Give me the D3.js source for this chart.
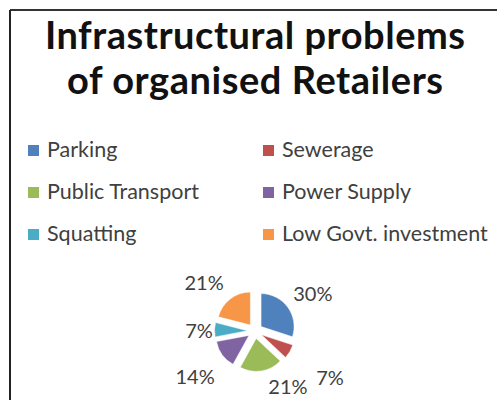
<!DOCTYPE html>
<html>
<head>
<meta charset="utf-8">
<script src="https://cdn.jsdelivr.net/npm/d3@7"></script>
<style>
  html, body { margin: 0; padding: 0; background: #fff; }
  svg { display: block; }
</style>
</head>
<body>
<svg id="chart" width="497" height="400"></svg>
<script>
// Chart data
const titleLines = ["Infrastructural problems", "of organised Retailers"];
const categories = ["Parking", "Sewerage", "Public Transport", "Power Supply", "Squatting", "Low Govt. investment"];
const shares = [30, 7, 21, 14, 7, 21];
const colors = ["#4F81BD", "#C0504D", "#9BBB59", "#8064A2", "#4BACC6", "#F79646"];

// Label placement around the pie: radial distance and angular nudge (degrees)
const labelRadius = [69, 88, 64, 75, 56, 71];
const labelTurn = [3, 1, -22, -1, -1, -8];

const W = 497, H = 400;
const svg = d3.select("#chart");
const font = "Lato, 'Open Sans', sans-serif";

// Frame lines
svg.append("line").attr("x1", 10).attr("x2", W).attr("y1", 10).attr("y2", 10)
  .attr("stroke", "#333").attr("stroke-width", 2);
svg.append("line").attr("x1", 10).attr("x2", 10).attr("y1", 10).attr("y2", H)
  .attr("stroke", "#222").attr("stroke-width", 2);

// Title, stretched to its line widths
const titleWidths = [420, 376];
svg.append("g")
  .attr("font-family", font)
  .attr("font-weight", "bold")
  .attr("font-size", 38)
  .attr("fill", "#111")
  .selectAll("text").data(titleLines).join("text")
  .attr("text-anchor", "middle")
  .attr("x", 255)
  .attr("y", (d, i) => 49 + i * 45)
  .attr("textLength", (d, i) => titleWidths[i])
  .attr("lengthAdjust", "spacing")
  .text(d => d);

// Legend: two columns, three rows
const legendCol = d3.scalePoint().domain([0, 1]).range([28, 263]);
const legendRow = d3.scalePoint().domain([0, 1, 2]).range([157, 241]);
const legend = svg.append("g")
  .attr("font-family", font)
  .attr("font-size", 21.5)
  .attr("fill", "#404040");
const items = legend.selectAll("g").data(categories).join("g")
  .attr("transform", (d, i) => `translate(${legendCol(i % 2)},${legendRow(Math.floor(i / 2))})`);
items.append("rect")
  .attr("x", 0).attr("y", -12).attr("width", 11).attr("height", 11)
  .attr("fill", (d, i) => colors[i]);
items.append("text")
  .attr("x", 19).attr("y", 0)
  .text(d => d);

// Pie
const cx = 255, cy = 331, r = 33, explode = 7.5;
const pie = d3.pie().sort(null).value(d => d)(shares);
const arc = d3.arc().innerRadius(0).outerRadius(r);
const g = svg.append("g").attr("transform", `translate(${cx},${cy})`);

const mid = d => (d.startAngle + d.endAngle) / 2;
g.selectAll("path").data(pie).join("path")
  .attr("d", arc)
  .attr("fill", (d, i) => colors[i])
  .attr("stroke", "#fff")
  .attr("stroke-width", 0.5)
  .attr("transform", d => `translate(${Math.sin(mid(d)) * explode},${-Math.cos(mid(d)) * explode})`);

// Percentage labels
g.selectAll("text.pct").data(pie).join("text")
  .attr("class", "pct")
  .attr("text-anchor", "middle")
  .attr("dominant-baseline", "central")
  .attr("font-family", font)
  .attr("font-size", 20)
  .attr("fill", "#404040")
  .attr("x", (d, i) => Math.sin(mid(d) + labelTurn[i] * Math.PI / 180) * labelRadius[i])
  .attr("y", (d, i) => -Math.cos(mid(d) + labelTurn[i] * Math.PI / 180) * labelRadius[i])
  .text(d => d.value + "%");
</script>
</body>
</html>
